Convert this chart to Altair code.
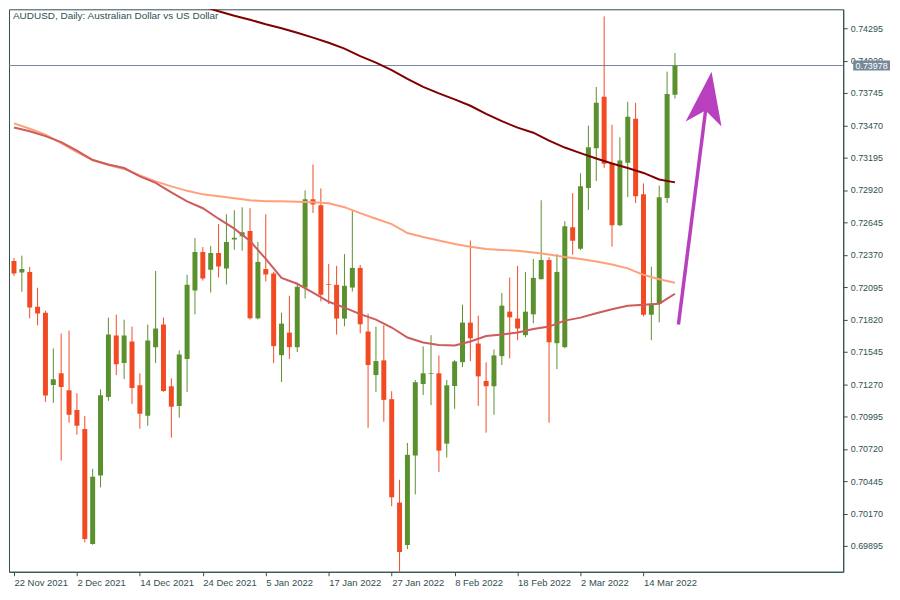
import altair as alt
import pandas as pd

# ---------------- data ----------------
opens = [0.72317, 0.72218, 0.72224, 0.71928, 0.71877, 0.71263, 0.71362, 0.71218, 0.71049, 0.70888,
         0.69910, 0.70494, 0.71161, 0.71683, 0.71449, 0.71632, 0.71260, 0.71001, 0.71584, 0.71776,
         0.71252, 0.71085, 0.71483, 0.72066, 0.72393, 0.72243, 0.72385, 0.72252, 0.72500, 0.72528,
         0.72571, 0.71829, 0.72249, 0.72210, 0.71516, 0.71708, 0.71584, 0.72091, 0.72841, 0.72790,
         0.72120, 0.72114, 0.71827, 0.72091, 0.72258, 0.71717, 0.71347, 0.71472, 0.71142, 0.70263,
         0.69902, 0.70663, 0.71271, 0.71358, 0.71362, 0.70764, 0.71254, 0.71457, 0.71793, 0.71615,
         0.71297, 0.71252, 0.71508, 0.71886, 0.71827, 0.71686, 0.71863, 0.72162, 0.72325, 0.71618,
         0.71584, 0.72604, 0.72421, 0.72937, 0.73275, 0.73712, 0.73148, 0.72621, 0.73151, 0.73526,
         0.72883, 0.71860, 0.71953, 0.72852, 0.73729]
highs = [0.72342, 0.72362, 0.72266, 0.72089, 0.71894, 0.71573, 0.71700, 0.71725, 0.71193, 0.70998,
         0.70550, 0.71226, 0.71835, 0.71860, 0.71818, 0.71759, 0.71362, 0.71776, 0.72232, 0.71835,
         0.71319, 0.71556, 0.72199, 0.72511, 0.72435, 0.72444, 0.72630, 0.72714, 0.72748, 0.72773,
         0.72765, 0.72478, 0.72714, 0.72224, 0.71877, 0.72021, 0.72131, 0.72917, 0.73137, 0.72934,
         0.72292, 0.72275, 0.72376, 0.72748, 0.72283, 0.71869, 0.71759, 0.71770, 0.71210, 0.70457,
         0.70770, 0.71305, 0.71590, 0.71686, 0.71514, 0.71305, 0.71474, 0.71945, 0.72489, 0.71852,
         0.71455, 0.71565, 0.72044, 0.72176, 0.72275, 0.72224, 0.72334, 0.72833, 0.72348, 0.72376,
         0.72655, 0.72894, 0.73063, 0.73467, 0.73796, 0.74396, 0.73475, 0.73368, 0.73669, 0.73661,
         0.72976, 0.72269, 0.72957, 0.73926, 0.74084]
lows = [0.72190, 0.72055, 0.71829, 0.71770, 0.71119, 0.71111, 0.70620, 0.70942, 0.70840, 0.69925,
        0.69905, 0.70392, 0.71128, 0.71347, 0.71314, 0.71102, 0.70891, 0.70916, 0.71449, 0.71205,
        0.70815, 0.70984, 0.71204, 0.71863, 0.72150, 0.72049, 0.72176, 0.72117, 0.72412, 0.72404,
        0.71820, 0.71820, 0.72142, 0.71449, 0.71288, 0.71483, 0.71542, 0.71998, 0.72725, 0.71973,
        0.71951, 0.71691, 0.71762, 0.72057, 0.71702, 0.70899, 0.71204, 0.70950, 0.70232, 0.69674,
        0.69868, 0.70333, 0.71178, 0.71091, 0.70522, 0.70646, 0.71060, 0.71415, 0.71466, 0.71085,
        0.70857, 0.71009, 0.71432, 0.71489, 0.71643, 0.71669, 0.71787, 0.72160, 0.70942, 0.71398,
        0.71575, 0.72370, 0.72410, 0.72751, 0.72996, 0.73106, 0.72438, 0.72613, 0.72860, 0.72810,
        0.71846, 0.71643, 0.71795, 0.72810, 0.73697]
closes = [0.72210, 0.72249, 0.71922, 0.71871, 0.71173, 0.71311, 0.71246, 0.71009, 0.70916, 0.69953,
          0.70483, 0.71176, 0.71691, 0.71438, 0.71683, 0.71237, 0.71018, 0.71641, 0.71742, 0.71212,
          0.71077, 0.71522, 0.72114, 0.72393, 0.72167, 0.72385, 0.72269, 0.72478, 0.72514, 0.72562,
          0.71829, 0.72309, 0.72201, 0.71593, 0.71784, 0.71584, 0.72097, 0.72841, 0.72796, 0.72030,
          0.72114, 0.71827, 0.72106, 0.72258, 0.71779, 0.71432, 0.71466, 0.71136, 0.70308, 0.69843,
          0.70669, 0.71286, 0.71362, 0.71364, 0.70705, 0.71260, 0.71463, 0.71793, 0.71660, 0.71336,
          0.71252, 0.71514, 0.71937, 0.71838, 0.71742, 0.71886, 0.72173, 0.72325, 0.71626, 0.72224,
          0.72613, 0.72489, 0.72953, 0.73283, 0.73661, 0.73143, 0.72621, 0.73171, 0.73543, 0.72866,
          0.71860, 0.71953, 0.72858, 0.73737, 0.73978]

# moving averages, read every second bar
ma_idx = list(range(0, 85, 2))
ma_salmon = [0.73486, 0.73441, 0.73391, 0.73319, 0.73243, 0.73175, 0.73133, 0.73099, 0.73044, 0.72993,
             0.72951, 0.72913, 0.72883, 0.72866, 0.72850, 0.72833, 0.72824, 0.72824, 0.72820, 0.72816,
             0.72807, 0.72774, 0.72723, 0.72676, 0.72630, 0.72554, 0.72520, 0.72490, 0.72461, 0.72438,
             0.72418, 0.72410, 0.72404, 0.72389, 0.72372, 0.72351, 0.72334, 0.72313, 0.72287, 0.72254,
             0.72199, 0.72161, 0.72131]
ma_red = [0.73452, 0.73420, 0.73378, 0.73327, 0.73255, 0.73175, 0.73137, 0.73107, 0.73036, 0.72981,
          0.72900, 0.72824, 0.72765, 0.72676, 0.72592, 0.72486, 0.72334, 0.72173, 0.72123, 0.72047,
          0.71970, 0.71920, 0.71865, 0.71818, 0.71751, 0.71666, 0.71624, 0.71603, 0.71599, 0.71632,
          0.71679, 0.71692, 0.71708, 0.71738, 0.71759, 0.71810, 0.71835, 0.71873, 0.71907, 0.71937,
          0.71945, 0.71954, 0.72038]
maroon_idx = list(range(22, 85, 2))
ma_maroon = [0.74528, 0.74481, 0.74439, 0.74401, 0.74367, 0.74329, 0.74295, 0.74257, 0.74215, 0.74172,
             0.74122, 0.74058, 0.74003, 0.73940, 0.73864, 0.73796, 0.73741, 0.73691, 0.73636, 0.73568,
             0.73505, 0.73450, 0.73407, 0.73340, 0.73281, 0.73234, 0.73188, 0.73145, 0.73107, 0.73065,
             0.73010, 0.72985]

tick_bars = [0, 8, 16, 24, 32, 40, 48, 56, 64, 72, 80]
tick_labels = ["22 Nov 2021", "2 Dec 2021", "14 Dec 2021", "24 Dec 2021", "5 Jan 2022",
               "17 Jan 2022", "27 Jan 2022", "8 Feb 2022", "18 Feb 2022", "2 Mar 2022", "14 Mar 2022"]
price_ticks = [0.69895, 0.70170, 0.70445, 0.70720, 0.70995, 0.71270, 0.71545, 0.71820, 0.72095,
               0.72370, 0.72645, 0.72920, 0.73195, 0.73470, 0.73745, 0.74020, 0.74295]
last_price = [0.73978]
title_text = ["AUDUSD, Daily:  Australian Dollar vs US Dollar"]
arrow_i = [84.44, 87.9]
arrow_p = [0.71776, 0.73599]
arrow_tip_i = [88.65]
arrow_tip_p = [0.73926]

# ---------------- chart ----------------
INK = "#2F4F4F"
UP = "#5B902F"
DOWN = "#F24B24"
FONT = "Liberation Sans"

bars = pd.DataFrame({"i": list(range(len(opens))), "open": opens, "high": highs,
                     "low": lows, "close": closes})
bars["dir"] = ["up" if c >= o else "down" for o, c in zip(opens, closes)]

label_js = "[" + ",".join("'" + s + "'" for s in tick_labels) + "][round(datum.value / 8)]"

xs = alt.Scale(domain=[0, 104.75], nice=False, zero=False)
ys = alt.Scale(domain=[0.69675, 0.74456], nice=False, zero=False)
x_axis = alt.Axis(values=tick_bars, labelExpr=label_js, grid=False, tickSize=4,
                  labelAlign="left", labelPadding=2, labelFontSize=9.5, labelFont=FONT,
                  labelColor=INK, tickColor=INK, domainColor=INK, orient="bottom",
                  labelFlush=False, labelOverlap=False)
y_axis = alt.Axis(values=price_ticks, format=".5f", grid=False, tickSize=4, orient="right",
                  labelPadding=3, labelFontSize=9, labelFont=FONT, labelColor=INK,
                  tickColor=INK, domainColor=INK, labelOverlap=False, labelFlush=False)

color = alt.Color("dir:N", scale=alt.Scale(domain=["up", "down"], range=[UP, DOWN]), legend=None)

base = alt.Chart(bars)
wicks = base.mark_rule(strokeWidth=1, clip=True).encode(
    x=alt.X("i:Q", scale=xs, axis=x_axis, title=None),
    y=alt.Y("low:Q", scale=ys, axis=y_axis, title=None),
    y2="high:Q",
    color=color,
)
bodies = base.mark_bar(size=5, clip=True).encode(
    x=alt.X("i:Q", scale=xs, axis=x_axis, title=None),
    y=alt.Y("open:Q", scale=ys, axis=y_axis, title=None),
    y2="close:Q",
    color=color,
)

price_df = pd.DataFrame({"p": last_price, "t": [f"{v:.5f}" for v in last_price]})
price_line = alt.Chart(price_df).mark_rule(color="#778899", strokeWidth=1).encode(
    y=alt.Y("p:Q", scale=ys, axis=y_axis, title=None)
)
price_box = alt.Chart(price_df).mark_point(
    shape="M-18.5,-5H18.5V5H-18.5Z", size=4, filled=True, color="#778899", opacity=1
).encode(x=alt.value(866.5), y=alt.Y("p:Q", scale=ys, axis=y_axis, title=None))
price_text = alt.Chart(price_df).mark_text(
    color="white", fontSize=9, font=FONT, align="center", baseline="middle"
).encode(x=alt.value(866.5), y=alt.Y("p:Q", scale=ys, axis=y_axis, title=None), text="t:N")


def ma_layer(idx, vals, col):
    df = pd.DataFrame({"i": idx, "v": vals})
    return alt.Chart(df).mark_line(color=col, strokeWidth=2, clip=True).encode(
        x=alt.X("i:Q", scale=xs, axis=x_axis, title=None),
        y=alt.Y("v:Q", scale=ys, axis=y_axis, title=None),
    )


ma1 = ma_layer(ma_idx, ma_salmon, "#FFA07A")
ma2 = ma_layer(ma_idx, ma_red, "#CD5C5C")
ma3 = ma_layer(maroon_idx, ma_maroon, "#800000")

arrow_df = pd.DataFrame({"i": arrow_i, "p": arrow_p})
shaft = alt.Chart(arrow_df).mark_line(color="#B840BE", strokeWidth=3.5).encode(
    x=alt.X("i:Q", scale=xs, axis=x_axis, title=None),
    y=alt.Y("p:Q", scale=ys, axis=y_axis, title=None),
)
head_df = pd.DataFrame({"i": arrow_tip_i, "p": arrow_tip_p})
head = alt.Chart(head_df).mark_point(
    shape="M0,0L10,55L-6,39L-26,50Z", size=4, filled=True, color="#B840BE", opacity=1
).encode(
    x=alt.X("i:Q", scale=xs, axis=x_axis, title=None),
    y=alt.Y("p:Q", scale=ys, axis=y_axis, title=None),
)

title_df = pd.DataFrame({"t": title_text})
title = alt.Chart(title_df).mark_text(
    align="left", baseline="top", fontSize=10, font=FONT, color=INK
).encode(x=alt.value(4), y=alt.value(2), text="t:N")

chart = alt.layer(
    price_line, wicks, bodies, ma1, ma2, ma3, shaft, head, price_box, price_text, title
).properties(
    width=838, height=565,
    padding={"left": 0, "top": 0, "right": 2, "bottom": 0},
    background="white",
).configure_view(stroke=INK, strokeWidth=1)

chart.save("out.html", embed_options={"renderer": "svg", "actions": False})
